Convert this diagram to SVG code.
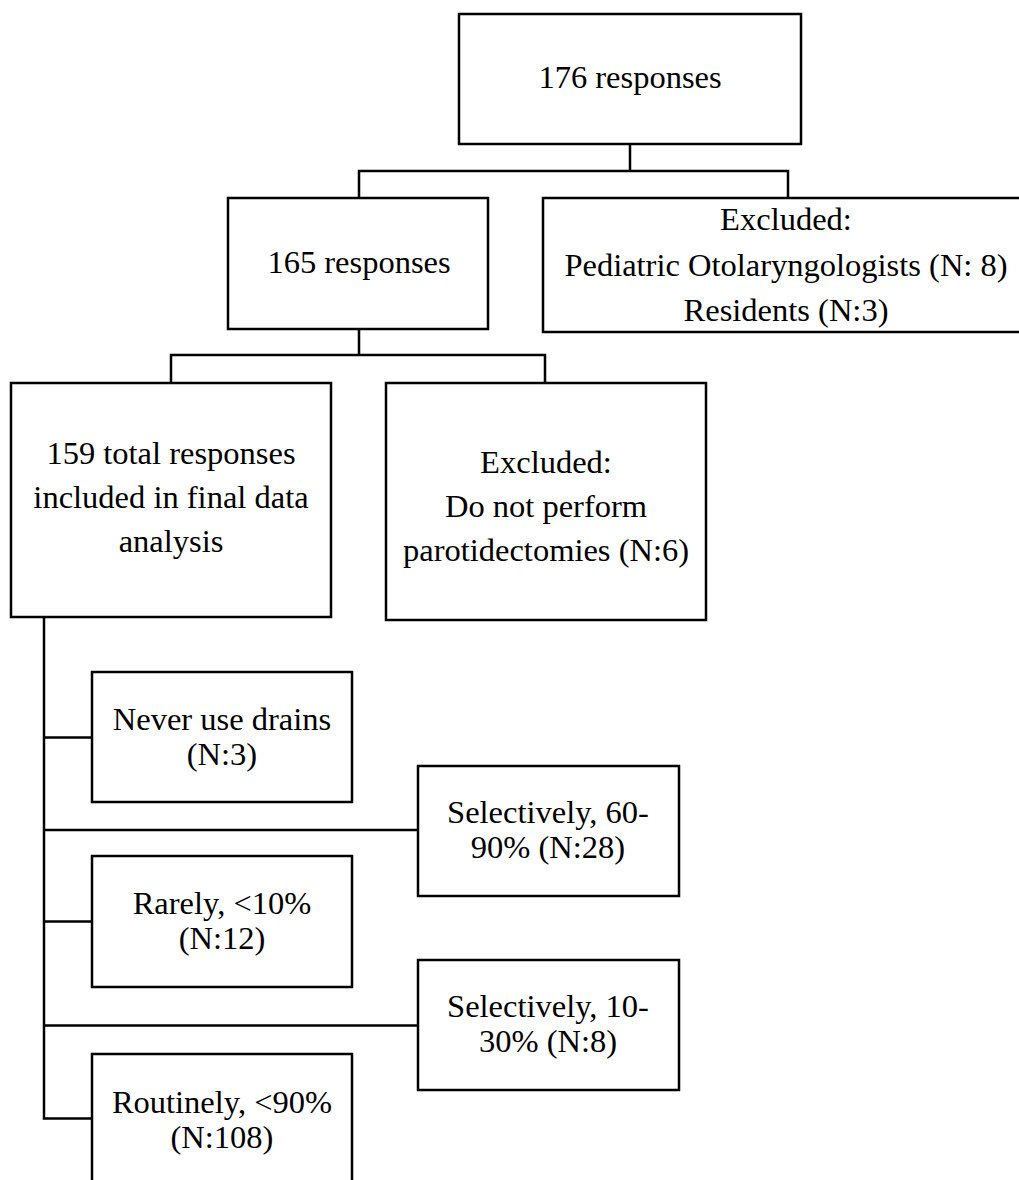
<svg xmlns="http://www.w3.org/2000/svg" width="1019" height="1180" viewBox="0 0 1019 1180">
<style>
.box{fill:#fff;stroke:#000;stroke-width:2.5}
.ln{fill:none;stroke:#000;stroke-width:2.5}
text{font-family:"Liberation Serif","Times New Roman",serif;font-size:32.5px;fill:#000;text-anchor:middle}
</style>
<rect width="1019" height="1180" fill="#fff"/>
<g id="connectors">
<path class="ln" d="M630 144V171M359 198V171H788V198"/>
<path class="ln" d="M359 329V355M171 383V355H545V383"/>
<path class="ln" d="M44 617V1118.5H92M44 737.5H92M44 830H418M44 921.5H92M44 1025.5H418"/>
</g>
<g id="n176"><rect class="box" x="459" y="14" width="342" height="130"/><text x="630" y="88">176 responses</text></g>
<g id="n165"><rect class="box" x="228" y="198" width="260" height="131"/><text x="359" y="273">165 responses</text></g>
<g id="excl1"><rect class="box" x="543" y="198" width="490" height="134"/><text x="786" y="230">Excluded:</text><text x="786" y="276">Pediatric Otolaryngologists (N: 8)</text><text x="786" y="321">Residents (N:3)</text></g>
<g id="n159"><rect class="box" x="11" y="383" width="320" height="234"/><text x="171" y="464">159 total responses</text><text x="171" y="508">included in final data</text><text x="171" y="552">analysis</text></g>
<g id="excl2"><rect class="box" x="386" y="383" width="320" height="237"/><text x="546" y="473">Excluded:</text><text x="546" y="517">Do not perform</text><text x="546" y="561">parotidectomies (N:6)</text></g>
<g id="never"><rect class="box" x="92" y="672" width="260" height="130"/><text x="222" y="730">Never use drains</text><text x="222" y="765">(N:3)</text></g>
<g id="sel6090"><rect class="box" x="418" y="766" width="261" height="130"/><text x="548" y="823">Selectively, 60-</text><text x="548" y="858">90% (N:28)</text></g>
<g id="rarely"><rect class="box" x="92" y="856" width="260" height="131"/><text x="222" y="914">Rarely, &lt;10%</text><text x="222" y="949">(N:12)</text></g>
<g id="sel1030"><rect class="box" x="418" y="960" width="261" height="130"/><text x="548" y="1017">Selectively, 10-</text><text x="548" y="1052">30% (N:8)</text></g>
<g id="routinely"><rect class="box" x="92" y="1054" width="260" height="140"/><text x="222" y="1113">Routinely, &lt;90%</text><text x="222" y="1148">(N:108)</text></g>
</svg>
